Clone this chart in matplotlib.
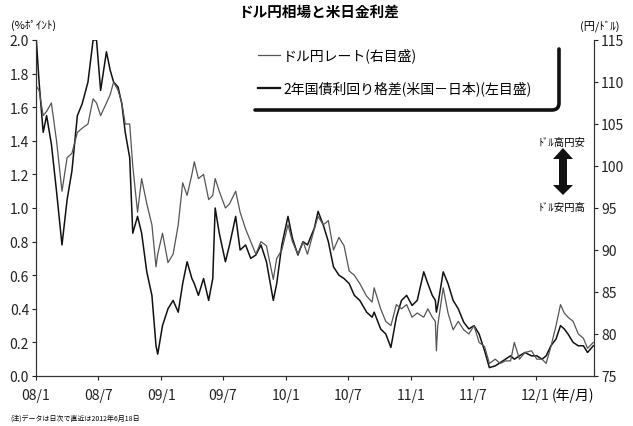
import matplotlib
matplotlib.use("Agg")
import matplotlib.pyplot as plt
import matplotlib.transforms as mtransforms
from matplotlib.path import Path
from matplotlib.patches import PathPatch, Polygon
from matplotlib.lines import Line2D
import pandas as pd

plt.rcParams["font.family"] = ["Noto Sans CJK JP", "DejaVu Sans"]

# ---------------------------------------------------------------------------
# data (approx. semi-monthly)
# ---------------------------------------------------------------------------
DATES = [
    "2008-01-02", "2008-01-10", "2008-01-22", "2008-02-01", "2008-02-15", "2008-03-01",
    "2008-03-17", "2008-04-01", "2008-04-15", "2008-05-01", "2008-05-15", "2008-06-01",
    "2008-06-16", "2008-06-26", "2008-07-08", "2008-07-25", "2008-08-05", "2008-08-15",
    "2008-08-28", "2008-09-08", "2008-09-18", "2008-10-01", "2008-10-10", "2008-10-24",
    "2008-11-05", "2008-11-20", "2008-12-05", "2008-12-17", "2008-12-22", "2009-01-05",
    "2009-01-21", "2009-02-05", "2009-02-20", "2009-03-05", "2009-03-18", "2009-04-01",
    "2009-04-08", "2009-04-20", "2009-05-05", "2009-05-20", "2009-06-01", "2009-06-08",
    "2009-06-20", "2009-07-08", "2009-07-20", "2009-08-07", "2009-08-20", "2009-09-05",
    "2009-09-20", "2009-10-05", "2009-10-20", "2009-11-05", "2009-11-25", "2009-12-05",
    "2009-12-20", "2010-01-07", "2010-01-20", "2010-02-05", "2010-02-20", "2010-03-05",
    "2010-03-25", "2010-04-05", "2010-04-20", "2010-05-05", "2010-05-20", "2010-06-05",
    "2010-06-20", "2010-07-05", "2010-07-20", "2010-08-05", "2010-08-25", "2010-09-10",
    "2010-09-16", "2010-10-05", "2010-10-20", "2010-11-04", "2010-11-20", "2010-12-05",
    "2010-12-20", "2011-01-05", "2011-01-20", "2011-02-08", "2011-02-20", "2011-03-05",
    "2011-03-14", "2011-03-17", "2011-03-21", "2011-04-06", "2011-04-20", "2011-05-05",
    "2011-05-20", "2011-06-05", "2011-06-20", "2011-07-05", "2011-07-20", "2011-08-05",
    "2011-08-19", "2011-09-05", "2011-09-20", "2011-10-05", "2011-10-20", "2011-10-31",
    "2011-11-15", "2011-12-01", "2011-12-20", "2012-01-05", "2012-01-20", "2012-02-01",
    "2012-02-15", "2012-03-01", "2012-03-14", "2012-03-25", "2012-04-05", "2012-04-20",
    "2012-05-05", "2012-05-20", "2012-06-01", "2012-06-18",
]

# ドル円レート (円/ドル, right axis)
USDJPY = [
    109.5, 109.0, 106.0, 106.5, 107.5, 103.0,
    97.0, 101.0, 101.5, 104.0, 104.5, 105.0,
    108.0, 107.5, 106.0, 107.5, 108.5, 110.0,
    109.0, 107.5, 105.0, 105.0, 100.0, 94.5,
    98.5, 95.5, 93.0, 88.0, 89.5, 92.0,
    88.5, 89.5, 93.0, 98.0, 96.5, 99.0,
    100.5, 98.5, 99.0, 96.0, 96.5, 98.5,
    97.0, 95.0, 95.5, 97.0, 94.5, 92.5,
    91.0, 89.5, 91.0, 90.5, 86.5, 89.0,
    90.0, 93.0, 91.0, 89.5, 91.0, 89.5,
    92.5, 94.0, 93.0, 93.5, 90.0, 91.5,
    90.5, 87.5, 87.0, 86.0, 84.5, 83.8,
    85.5, 83.0, 81.5, 81.0, 83.5, 83.0,
    83.5, 82.0, 82.5, 82.0, 83.0, 82.0,
    81.5, 78.0, 81.0, 85.5, 82.5, 80.5,
    81.5, 80.5, 80.0, 81.0, 79.0, 78.5,
    76.5, 77.0, 76.5, 76.8, 76.8, 79.0,
    77.0, 77.8, 78.0, 77.0, 77.0, 76.5,
    78.5, 81.0, 83.5, 82.5, 82.0, 81.5,
    80.0, 79.5, 78.3, 79.0,
]

# 2年国債利回り格差 (米国-日本, %ポイント, left axis)
SPREAD = [
    2.00, 1.75, 1.45, 1.55, 1.38, 1.10,
    0.78, 1.05, 1.22, 1.55, 1.62, 1.75,
    2.00, 2.00, 1.70, 1.93, 1.82, 1.75,
    1.72, 1.62, 1.45, 1.30, 0.85, 0.95,
    0.85, 0.62, 0.48, 0.18, 0.13, 0.30,
    0.40, 0.45, 0.38, 0.55, 0.68, 0.58,
    0.55, 0.48, 0.58, 0.45, 0.58, 1.00,
    0.85, 0.68, 0.78, 0.95, 0.75, 0.78,
    0.70, 0.72, 0.78, 0.68, 0.45, 0.55,
    0.78, 0.95, 0.82, 0.72, 0.80, 0.78,
    0.88, 0.98, 0.90, 0.80, 0.65, 0.60,
    0.58, 0.55, 0.48, 0.45, 0.38, 0.35,
    0.38, 0.28, 0.25, 0.17, 0.35, 0.45,
    0.48, 0.42, 0.45, 0.62, 0.55, 0.48,
    0.45, 0.38, 0.42, 0.62, 0.55, 0.45,
    0.40, 0.32, 0.28, 0.30, 0.25, 0.15,
    0.05, 0.06, 0.08, 0.10, 0.12, 0.10,
    0.12, 0.14, 0.12, 0.12, 0.10, 0.12,
    0.18, 0.22, 0.30, 0.28, 0.25, 0.20,
    0.18, 0.18, 0.14, 0.18,
]

XTICKS = ["2008-01-01", "2008-07-01", "2009-01-01", "2009-07-01", "2010-01-01",
          "2010-07-01", "2011-01-01", "2011-07-01", "2012-01-01"]
XTICK_LABELS = ["08/1", "08/7", "09/1", "09/7", "10/1", "10/7", "11/1", "11/7", "12/1"]
LEFT_TICKS = [0.0, 0.2, 0.4, 0.6, 0.8, 1.0, 1.2, 1.4, 1.6, 1.8, 2.0]
RIGHT_TICKS = [75, 80, 85, 90, 95, 100, 105, 110, 115]

W, H = 633, 427

fig = plt.figure(figsize=(W / 100, H / 100), dpi=100)
# pixel coords of the picture (origin top-left) -> figure
px = mtransforms.Affine2D().scale(1 / W, -1 / H).translate(0, 1) + fig.transFigure

ax = fig.add_axes([36 / W, 1 - 377 / H, (594 - 36) / W, (377 - 41) / H])
ax2 = ax.twinx()

dates = pd.to_datetime(DATES)
ax.plot(dates, SPREAD, color="#111111", linewidth=1.1, zorder=3)
ax2.plot(dates, USDJPY, color="#555555", linewidth=0.9)

ax.set_ylim(0, 2.0)
ax2.set_ylim(75, 115)
ax.set_xlim(pd.Timestamp("2008-01-01"), pd.Timestamp("2012-06-20"))

ax.set_xticks(pd.to_datetime(XTICKS))
ax.set_xticklabels(XTICK_LABELS)
ax.set_yticks(LEFT_TICKS)
ax.set_yticklabels([f"{v:.1f}" for v in LEFT_TICKS])
ax2.set_yticks(RIGHT_TICKS)

for a in (ax, ax2):
    a.spines["top"].set_visible(False)
    for s in a.spines.values():
        s.set_linewidth(0.8)
        s.set_color("#333333")
    a.tick_params(labelsize=10, length=3, width=0.8, colors="#222222", pad=2)
ax.tick_params(axis="x", pad=6)

# titles and units
fig.text(318, 12, "ドル円相場と米日金利差", transform=px, ha="center", va="center",
         fontsize=10.5, fontweight="bold")
fig.text(34, 25, "(%ﾎﾟｲﾝﾄ)", transform=px, ha="center", va="center", fontsize=8)
fig.text(600, 26, "(円/ﾄﾞﾙ)", transform=px, ha="center", va="center", fontsize=8)
fig.text(552, 396, "(年/月)", transform=px, ha="left", va="center", fontsize=10)
fig.text(10, 419, "(注)データは日次で直近は2012年6月18日", transform=px, ha="left",
         va="center", fontsize=5)

# legend with shadow frame
fig.add_artist(Line2D([258, 280], [56, 56], transform=px, color="#555555", linewidth=0.9))
fig.add_artist(Line2D([258, 280], [89, 89], transform=px, color="#111111", linewidth=1.6))
fig.text(283, 56, "ドル円レート(右目盛)", transform=px, ha="left", va="center", fontsize=10)
fig.text(283, 89, "2年国債利回り格差(米国－日本)(左目盛)", transform=px, ha="left",
         va="center", fontsize=10)
shadow = Path([(255, 111), (552, 111), (559, 111), (559, 104), (559, 50)],
              [Path.MOVETO, Path.LINETO, Path.CURVE3, Path.CURVE3, Path.LINETO])
fig.add_artist(PathPatch(shadow, transform=px, facecolor="none", edgecolor="#111111",
                         linewidth=2.6, capstyle="round"))

# direction arrow
arrow = [(563, 149), (553, 160), (559, 160), (559, 186), (553, 186), (563, 196),
         (573, 186), (567, 186), (567, 160), (573, 160)]
fig.add_artist(Polygon(arrow, closed=True, transform=px, facecolor="#111111",
                       edgecolor="none"))
fig.text(562, 143, "ﾄﾞﾙ高円安", transform=px, ha="center", va="center", fontsize=7.5)
fig.text(562, 208, "ﾄﾞﾙ安円高", transform=px, ha="center", va="center", fontsize=7.5)

fig.savefig("out.png", dpi=100)
